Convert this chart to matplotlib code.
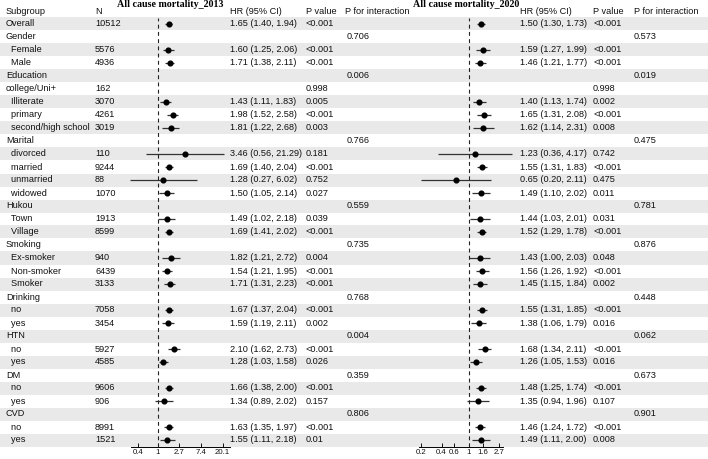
import matplotlib.pyplot as plt
import numpy as np

nan = np.nan

subgroups = ['Overall', 'Gender', '  Female', '  Male', 'Education', 'college/Uni+',
             '  Illiterate', '  primary', '  second/high school', 'Marital', '  divorced',
             '  married', '  unmarried', '  widowed', 'Hukou', '  Town', '  Village',
             'Smoking', '  Ex-smoker', '  Non-smoker', '  Smoker', 'Drinking', '  no',
             '  yes', 'HTN', '  no', '  yes', 'DM', '  no', '  yes', 'CVD', '  no', '  yes']
n_obs = [10512, None, 5576, 4936, None, 162, 3070, 4261, 3019, None, 110, 9244, 88, 1070,
         None, 1913, 8599, None, 940, 6439, 3133, None, 7058, 3454, None, 5927, 4585,
         None, 9606, 906, None, 8991, 1521]

hr_2013 = [1.65, nan, 1.60, 1.71, nan, nan, 1.43, 1.98, 1.81, nan, 3.46, 1.69, 1.28, 1.50,
           nan, 1.49, 1.69, nan, 1.82, 1.54, 1.71, nan, 1.67, 1.59, nan, 2.10, 1.28, nan,
           1.66, 1.34, nan, 1.63, 1.55]
lo_2013 = [1.40, nan, 1.25, 1.38, nan, nan, 1.11, 1.52, 1.22, nan, 0.56, 1.40, 0.27, 1.05,
           nan, 1.02, 1.41, nan, 1.21, 1.21, 1.31, nan, 1.37, 1.19, nan, 1.62, 1.03, nan,
           1.38, 0.89, nan, 1.35, 1.11]
hi_2013 = [1.94, nan, 2.06, 2.11, nan, nan, 1.83, 2.58, 2.68, nan, 21.29, 2.04, 6.02, 2.14,
           nan, 2.18, 2.02, nan, 2.72, 1.95, 2.23, nan, 2.04, 2.11, nan, 2.73, 1.58, nan,
           2.00, 2.02, nan, 1.97, 2.18]
p_2013 = ['<0.001', '', '<0.001', '<0.001', '', '0.998', '0.005', '<0.001', '0.003', '',
          '0.181', '<0.001', '0.752', '0.027', '', '0.039', '<0.001', '', '0.004', '<0.001',
          '<0.001', '', '<0.001', '0.002', '', '<0.001', '0.026', '', '<0.001', '0.157', '',
          '<0.001', '0.01']
pint_2013 = ['', '0.706', '', '', '0.006', '', '', '', '', '0.766', '', '', '', '', '0.559',
             '', '', '0.735', '', '', '', '0.768', '', '', '0.004', '', '', '0.359', '', '',
             '0.806', '', '']

hr_2020 = [1.50, nan, 1.59, 1.46, nan, nan, 1.40, 1.65, 1.62, nan, 1.23, 1.55, 0.65, 1.49,
           nan, 1.44, 1.52, nan, 1.43, 1.56, 1.45, nan, 1.55, 1.38, nan, 1.68, 1.26, nan,
           1.48, 1.35, nan, 1.46, 1.49]
lo_2020 = [1.30, nan, 1.27, 1.21, nan, nan, 1.13, 1.31, 1.14, nan, 0.36, 1.31, 0.20, 1.10,
           nan, 1.03, 1.29, nan, 1.00, 1.26, 1.15, nan, 1.31, 1.06, nan, 1.34, 1.05, nan,
           1.25, 0.94, nan, 1.24, 1.11]
hi_2020 = [1.73, nan, 1.99, 1.77, nan, nan, 1.74, 2.08, 2.31, nan, 4.17, 1.83, 2.11, 2.02,
           nan, 2.01, 1.78, nan, 2.03, 1.92, 1.84, nan, 1.85, 1.79, nan, 2.11, 1.53, nan,
           1.74, 1.96, nan, 1.72, 2.00]
p_2020 = ['<0.001', '', '<0.001', '<0.001', '', '0.998', '0.002', '<0.001', '0.008', '',
          '0.742', '<0.001', '0.475', '0.011', '', '0.031', '<0.001', '', '0.048', '<0.001',
          '0.002', '', '<0.001', '0.016', '', '<0.001', '0.016', '', '<0.001', '0.107', '',
          '<0.001', '0.008']
pint_2020 = ['', '0.573', '', '', '0.019', '', '', '', '', '0.475', '', '', '', '', '0.781',
             '', '', '0.876', '', '', '', '0.448', '', '', '0.062', '', '', '0.673', '', '',
             '0.901', '', '']

ticks_2013 = [0.4, 1, 2.7, 7.4, 20.1]
ticks_2020 = [0.2, 0.4, 0.6, 1, 1.6, 2.7]

W, H = 708, 459
FONT = ['Liberation Sans Narrow', 'Liberation Sans', 'DejaVu Sans']
FS = 6.6
ROW0, ROWH = 24, 13  # pixel y of first row, row height

fig = plt.figure(figsize=(W / 100, H / 100), dpi=100, facecolor='white')

# background / table axes, y in row units
bg = fig.add_axes([0, 0, 1, 1])
bg.set_xlim(0, W)
bg.set_ylim((H - ROW0) / ROWH, -ROW0 / ROWH)
bg.axis('off')

nrow = len(subgroups)
for i in range(0, nrow, 2):
    bg.axhspan(i - 0.5, i + 0.5, color='#e9e9e9', lw=0, zorder=0)


def txt(x, y, s, **kw):
    bg.text(x, y, s, fontsize=FS, family=FONT, va='center', ha='left', color='#111111', **kw)


hdr = -0.95
txt(6, hdr, 'Subgroup')
txt(95, hdr, 'N')
txt(230, hdr, 'HR (95% CI)')
txt(306, hdr, 'P value')
txt(345, hdr, 'P for interaction')
txt(520, hdr, 'HR (95% CI)')
txt(593, hdr, 'P value')
txt(634, hdr, 'P for interaction')
bg.text(170, -1.5, 'All cause mortality_2013', fontsize=7.2, family='Liberation Serif',
        weight='bold', ha='center', va='center')
bg.text(466, -1.5, 'All cause mortality_2020', fontsize=7.2, family='Liberation Serif',
        weight='bold', ha='center', va='center')

for i in range(nrow):
    txt(6, i, subgroups[i])
    if n_obs[i] is not None:
        txt(95, i, str(n_obs[i]))
    if not np.isnan(hr_2013[i]):
        txt(230, i, f'{hr_2013[i]:.2f} ({lo_2013[i]:.2f}, {hi_2013[i]:.2f})')
    if not np.isnan(hr_2020[i]):
        txt(520, i, f'{hr_2020[i]:.2f} ({lo_2020[i]:.2f}, {hi_2020[i]:.2f})')
    txt(306, i, p_2013[i])
    txt(347, i, pint_2013[i])
    txt(593, i, p_2020[i])
    txt(634, i, pint_2020[i])


def forest(x_left, x_right, x_one, px_per_unit, hr, lo, hi, ticks, bounds):
    top = ROW0 - ROWH / 2
    bottom = ROW0 + ROWH * (nrow - 0.5)
    ax = fig.add_axes([x_left / W, 1 - bottom / H, (x_right - x_left) / W, (bottom - top) / H])
    ax.patch.set_alpha(0)
    ax.set_xscale('log')
    ax.set_xlim(np.exp((x_left - x_one) / px_per_unit), np.exp((x_right - x_one) / px_per_unit))
    ax.set_ylim(nrow - 0.5, -0.5)
    rows = np.arange(nrow)
    ax.hlines(rows, lo, hi, color='#333333', lw=0.9, clip_on=False)
    ax.plot(hr, rows, 'o', color='black', ms=3.4, clip_on=False)
    ax.axvline(1, color='#222222', lw=0.8, dashes=(3.5, 3))
    for s in ['top', 'right', 'left']:
        ax.spines[s].set_visible(False)
    ax.spines['bottom'].set_bounds(*bounds)
    ax.spines['bottom'].set_linewidth(0.7)
    ax.set_yticks([])
    ax.xaxis.set_minor_locator(plt.NullLocator())
    ax.set_xticks(ticks)
    ax.set_xticklabels([f'{t:g}' for t in ticks], fontsize=5.6, family=FONT)
    ax.tick_params(axis='x', direction='in', length=3, width=0.7, pad=1.5, colors='#111111')
    return ax


forest(120, 232, 158, 21.5, hr_2013, lo_2013, hi_2013, ticks_2013, (0.28, 28))
forest(410, 520, 469, 30, hr_2020, lo_2020, hi_2020, ticks_2020, (0.189, 3.1))

fig.savefig('out.png', dpi=100, facecolor='white')
